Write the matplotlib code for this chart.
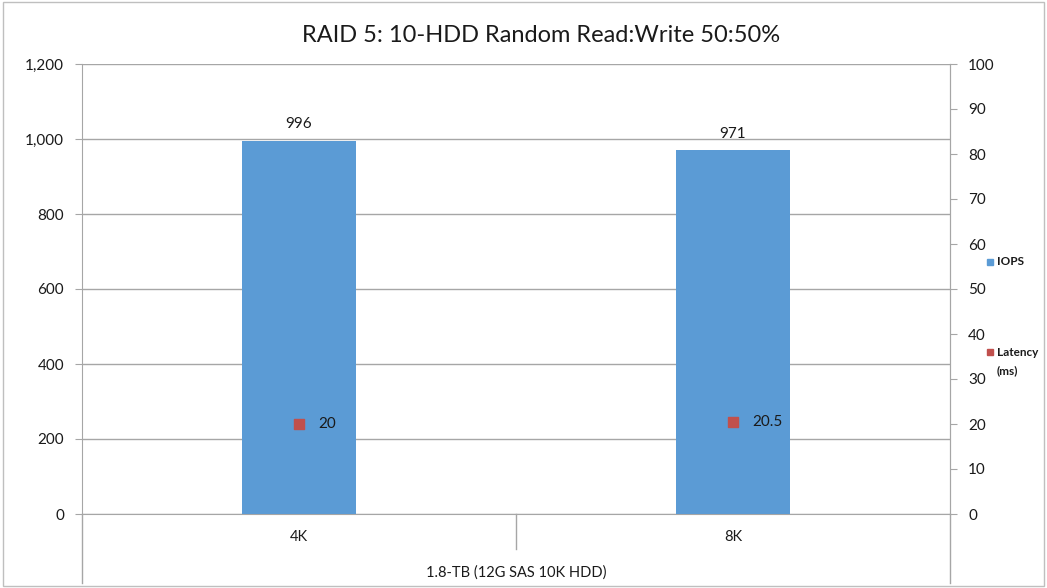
import matplotlib
matplotlib.use("Agg")
import matplotlib.pyplot as plt
from matplotlib.lines import Line2D
from matplotlib.patches import Rectangle

plt.rcParams['font.family'] = ['Lato', 'DejaVu Sans']

title = "RAID 5: 10-HDD Random Read:Write 50:50%"
categories = ["4K", "8K"]
group_label = "1.8-TB (12G SAS 10K HDD)"
iops = [996, 971]
latency = [20, 20.5]
latency_labels = ["20", "20.5"]
left_ticks = [0, 200, 400, 600, 800, 1000, 1200]
right_ticks = list(range(0, 101, 10))

bar_color = "#5B9BD5"
lat_color = "#C0504D"
grid_color = "#A6A6A6"
text_color = "#1a1a1a"

W, H = 1047, 588
fig = plt.figure(figsize=(W/100, H/100), dpi=100)
fig.patches.append(Rectangle((3/W, 2/H), (W-6)/W, (H-4)/H, transform=fig.transFigure,
                             fill=False, edgecolor="#BFBFBF", lw=1))

x0, x1 = 82, 950
y0, y1 = 514, 64
ax = fig.add_axes([x0/W, 1-y0/H, (x1-x0)/W, (y0-y1)/H])
ax2 = ax.twinx()

pos = [0, 1]
ax.bar(pos, iops, width=0.263, color=bar_color, zorder=3)
for p, v in zip(pos, iops):
    ax.text(p, v + 25, f"{v}", ha="center", va="bottom", fontsize=11, color=text_color)

ax.set_xlim(-0.5, 1.5)
ax.set_ylim(0, 1200)
ax.set_yticks(left_ticks)
ax.set_yticklabels([f"{t:,}" for t in left_ticks])
ax.yaxis.grid(True, color=grid_color, lw=1, zorder=0)
ax.set_axisbelow(True)
ax.set_xticks([])
ax.spines["top"].set_visible(False)
for s in ["left", "right", "bottom"]:
    ax.spines[s].set_color(grid_color)
ax.tick_params(axis="y", length=5, color=grid_color, labelsize=11, labelcolor=text_color, pad=8)

ax2.scatter(pos, latency, marker="s", s=60, color=lat_color, zorder=5)
for p, v, lab in zip(pos, latency, latency_labels):
    ax2.text(p + 0.045, v, lab, ha="left", va="center", fontsize=11, color=text_color)
ax2.set_ylim(0, 100)
ax2.set_yticks(right_ticks)
ax2.tick_params(axis="y", length=5, color=grid_color, labelsize=11, labelcolor=text_color, pad=8)
for s in ["top", "left", "bottom"]:
    ax2.spines[s].set_visible(False)
ax2.spines["right"].set_color(grid_color)

# category axis area below
trans = ax.get_xaxis_transform()
def px(y):
    return -(y - y0) / (y0 - y1)
for xv, ybot in [(-0.5, 583), (0.5, 549), (1.5, 583)]:
    ax.add_line(Line2D([xv, xv], [0, px(ybot)], transform=trans, color=grid_color, lw=1, clip_on=False))
for p, c in zip(pos, categories):
    ax.text(p, px(537), c, transform=trans, ha="center", va="center", fontsize=10.5, color=text_color)
ax.text(0.5, px(573), group_label, transform=trans, ha="center", va="center", fontsize=10.5, color=text_color)

fig.text(541/W, 1-35/H, title, ha="center", va="center", fontsize=17, color=text_color)

# legend
fig.patches.append(Rectangle((987/W, 1-265/H), 6/W, 6/H, transform=fig.transFigure, color=bar_color))
fig.text(997/W, 1-262/H, "IOPS", ha="left", va="center", fontsize=8.5, fontweight="bold", color=text_color)
fig.patches.append(Rectangle((987/W, 1-355/H), 6/W, 6/H, transform=fig.transFigure, color=lat_color))
fig.text(997/W, 1-353/H, "Latency", ha="left", va="center", fontsize=8.5, fontweight="bold", color=text_color)
fig.text(997/W, 1-371/H, "(ms)", ha="left", va="center", fontsize=8.5, fontweight="bold", color=text_color)

fig.savefig("out.png", dpi=100)
